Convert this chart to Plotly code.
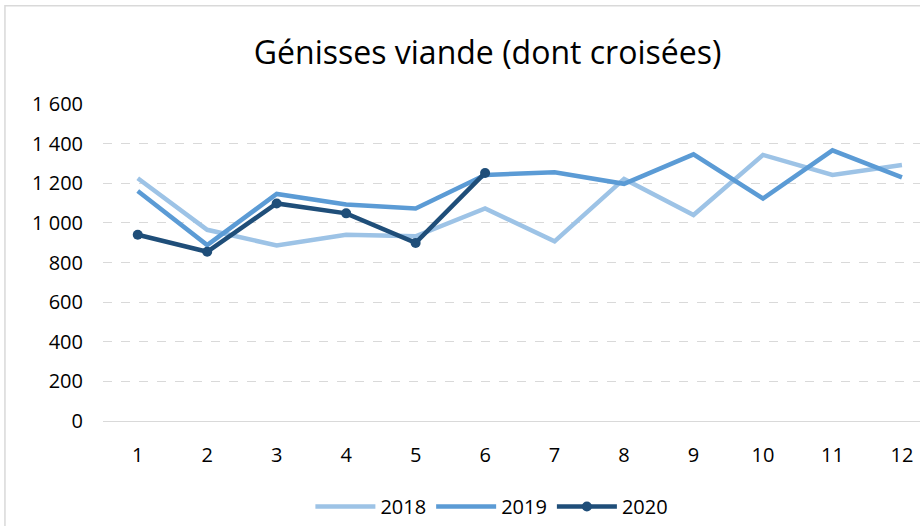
import plotly.graph_objects as go

months = [1, 2, 3, 4, 5, 6, 7, 8, 9, 10, 11, 12]
v2018 = [1225, 965, 886, 940, 932, 1073, 907, 1222, 1040, 1343, 1242, 1292]
v2019 = [1161, 888, 1146, 1093, 1073, 1242, 1255, 1197, 1346, 1123, 1366, 1230]
months_2020 = [1, 2, 3, 4, 5, 6]
v2020 = [940, 854, 1098, 1048, 899, 1252]
y_ticks = [0, 200, 400, 600, 800, 1000, 1200, 1400, 1600]

FONT = "Open Sans"

fig = go.Figure()
fig.add_trace(go.Scatter(x=months, y=v2018, name="2018", mode="lines",
                         line=dict(color="#9DC3E6", width=4.5)))
fig.add_trace(go.Scatter(x=months, y=v2019, name="2019", mode="lines",
                         line=dict(color="#5B9BD5", width=4.5)))
fig.add_trace(go.Scatter(x=months_2020, y=v2020, name="2020", mode="lines+markers",
                         line=dict(color="#1F4E79", width=4.5),
                         marker=dict(color="#1F4E79", size=10)))

fig.update_layout(
    width=920, height=526,
    paper_bgcolor="white", plot_bgcolor="white",
    margin=dict(l=103, r=0, t=104, b=99),
    separators=", ",
    font=dict(family=FONT, color="#000000", size=20),
    title=dict(text="Génisses viande (dont croisées)", x=0.53, xanchor="center",
               y=0.9, yanchor="middle",
               font=dict(family=FONT, size=32, color="#000000")),
    showlegend=True,
    legend=dict(orientation="h", x=0.476, xanchor="center", y=-0.21, yanchor="top",
                font=dict(family=FONT, size=20, color="#000000"),
                itemwidth=60, traceorder="normal"),
    xaxis=dict(range=[0.5, 12.26], tickmode="array", tickvals=months,
               ticktext=[str(m) for m in months],
               showgrid=False, showline=True, linecolor="#D9D9D9", linewidth=1,
               ticks="", zeroline=False, tickfont=dict(size=20),
               ticklabelstandoff=16, fixedrange=True),
    yaxis=dict(range=[0, 1600], tickmode="array", tickvals=y_ticks,
               tickformat=",d", showgrid=True, gridcolor="#D9D9D9",
               griddash="dash", gridwidth=1, zeroline=False, showline=False,
               ticks="", ticklabelstandoff=19, tickfont=dict(size=20)),
    shapes=[dict(type="rect", xref="paper", yref="paper",
                 x0=-0.12, x1=1.2, y0=-1.0, y1=1.31,
                 line=dict(color="#D9D9D9", width=1.5), layer="below")],
)

fig.write_html("out.html", config={"displayModeBar": False},
               post_script="document.body.style.margin='0';document.body.style.overflow='hidden';")
